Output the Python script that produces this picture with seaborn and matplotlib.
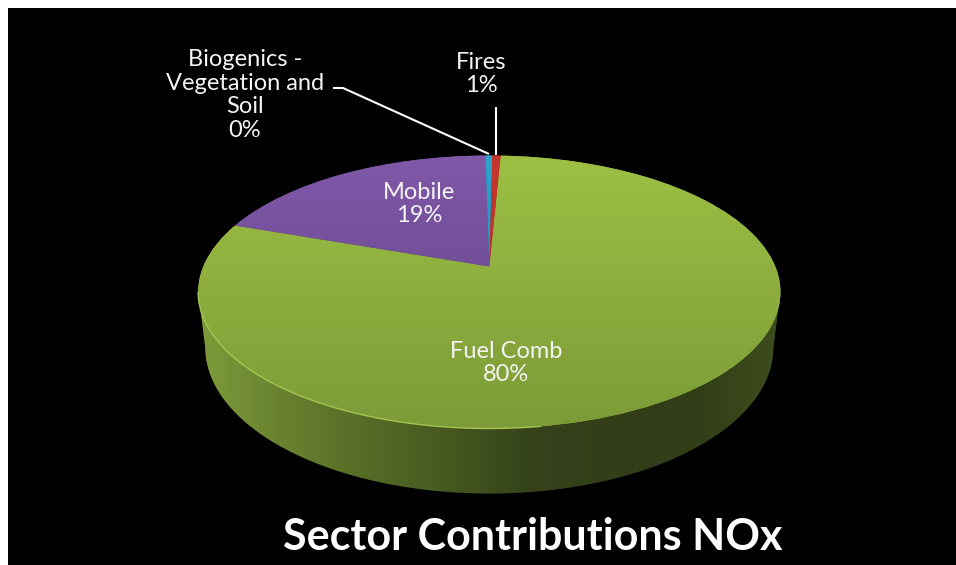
import numpy as np
import matplotlib
matplotlib.use("Agg")
import matplotlib.pyplot as plt
import seaborn as sns
from matplotlib.patches import Polygon
from matplotlib.transforms import Transform

sectors = ["Fuel Comb", "Mobile", "Biogenics -\nVegetation and\nSoil", "Fires"]
shares = [79.6, 19.4, 0.45, 0.55]
shown_pct = ["80%", "19%", "0%", "1%"]
chart_title = "Sector Contributions NOx"

label_pos = [(506, 363), (419, 204), (245, 95), (481, 74)]

top_colors = [["#9dc044", "#7c9b38"], ["#8059a9", "#5f3f80"], ["#2fa3cf", "#1f7fa5"], ["#c8372f", "#a02c26"]]
wall_colors = ["#7e9b3b", "#688230", "#566c26", "#465820", "#35421a", "#323e17", "#323e17", "#3e4d1c"]
text_color = "#f4f4f4"


class TiltedDisc(Transform):
    # unit circle -> picture pixels, with a bit of perspective
    input_dims = 2
    output_dims = 2

    def __init__(self, cx, cy, a, b, k):
        super().__init__()
        self.cx, self.cy, self.a, self.b, self.k = cx, cy, a, b, k

    def transform_non_affine(self, values):
        values = np.asarray(values)
        w = 1 + self.k * values[:, 1]
        return np.column_stack([self.cx + self.a * values[:, 0] / w, self.cy - self.b * values[:, 1] / w])


sns.set_theme(style="dark", rc={"axes.facecolor": "black", "figure.facecolor": "white"})
plt.rcParams["font.family"] = ["Lato", "DejaVu Sans"]

fig = plt.figure(figsize=(9.56, 5.65), dpi=100)
ax = fig.add_axes([8 / 956, 0, 948 / 956, 557 / 565])

top = TiltedDisc(489.3, 266.5, 286, 131.7, 0.187)
bottom = TiltedDisc(489.3, 320, 279, 141, 0.187)

wedges, _ = ax.pie(shares, startangle=87.3, counterclock=False, frame=True,
                   colors=[c[0] for c in top_colors], wedgeprops={"linewidth": 0})

for wedge, cols in zip(wedges, top_colors):
    wedge.set_transform(top + ax.transData)
    wedge.set_zorder(3)
    wedge.set_edgecolor(cols[0])
    cmap = sns.blend_palette(cols, n_colors=256, as_cmap=True)
    img = ax.imshow(np.linspace(0, 1, 256)[:, None], cmap=cmap, aspect="auto", extent=(190, 790, 430, 153), zorder=4)
    img.set_clip_path(wedge)

# side wall between the lower arcs of the two discs
theta = np.linspace(np.pi + np.arcsin(0.187), 2 * np.pi - np.arcsin(0.187), 200)
circle = np.column_stack([np.cos(theta), np.sin(theta)])
outline = np.vstack([top.transform(circle), bottom.transform(circle)[::-1]])
wall_patch = Polygon(outline, closed=True, transform=ax.transData, facecolor=wall_colors[4], edgecolor="none", zorder=1)
ax.add_patch(wall_patch)
wall_cmap = sns.blend_palette(wall_colors, n_colors=256, as_cmap=True)
wall = ax.imshow(np.linspace(0, 1, 256)[None, :], cmap=wall_cmap, aspect="auto", extent=(198, 780, 500, 280), zorder=2)
wall.set_clip_path(wall_patch)

# light rim on the near left edge
rim = top.transform(circle[circle[:, 0] < 0.15])
ax.plot(rim[:, 0], rim[:, 1], color="#a3c64e", lw=1.0, zorder=5)

for (x, y), name, pct in zip(label_pos, sectors, shown_pct):
    ax.text(x, y, f"{name}\n{pct}", color=text_color, fontsize=17, ha="center", va="center",
            linespacing=1.15, zorder=7)

# leader lines
ax.plot([333, 343, 489], [88, 88, 154], color="white", lw=1.5, zorder=6, solid_capstyle="butt")
ax.plot([496, 496], [107, 155], color="white", lw=1.5, zorder=6, solid_capstyle="butt")

ax.text(533, 537, chart_title, color="white", fontsize=31, fontweight="bold", ha="center", va="center", zorder=7)

ax.set_aspect("auto")
ax.set_xlim(8, 956)
ax.set_ylim(565, 8)
ax.set_xticks([])
ax.set_yticks([])
ax.grid(False)
sns.despine(ax=ax, left=True, bottom=True)

fig.savefig("out.png", dpi=100)
